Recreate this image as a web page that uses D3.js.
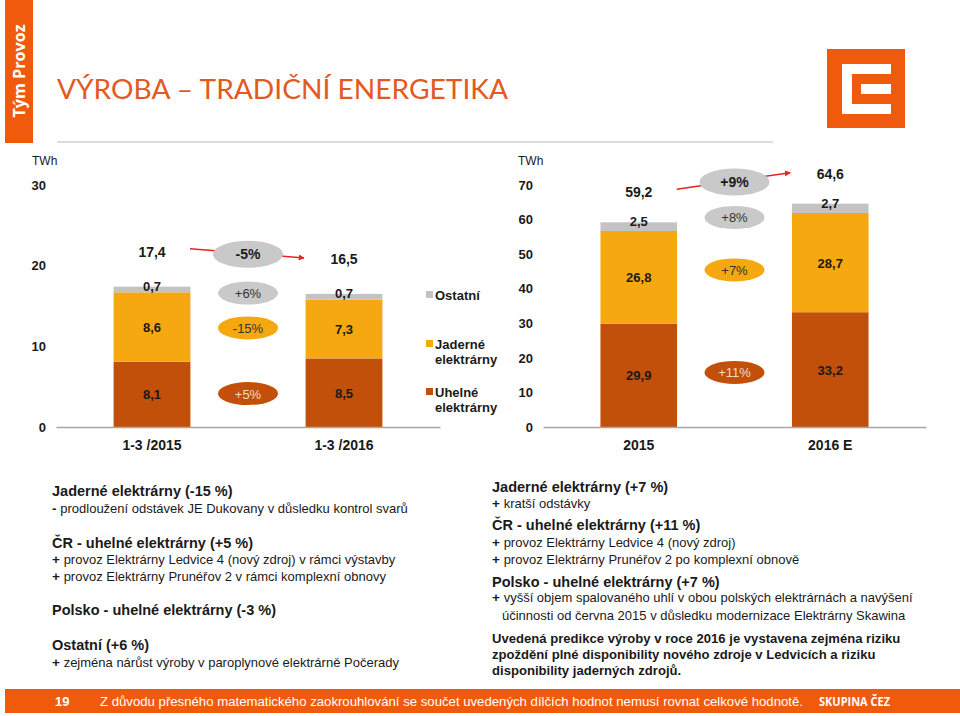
<!DOCTYPE html>
<html><head><meta charset="utf-8">
<script src="https://cdn.jsdelivr.net/npm/d3@7/dist/d3.min.js"></script>
<style>
html,body{margin:0;padding:0;background:#fff;}
svg{display:block;font-family:"Liberation Sans",Arial,sans-serif;}
</style></head>
<body><svg id="c" width="960" height="716"></svg>
<script>
// ---------- data ----------
const seriesNames = ["Uhelné elektrárny","Jaderné elektrárny","Ostatní"];
const legendLines = [["Ostatní"],["Jaderné","elektrárny"],["Uhelné","elektrárny"]];

const categoriesA = ["1-3 /2015","1-3 /2016"];
const coalA = [8.1, 8.5];
const nuclearA = [8.6, 7.3];
const otherA = [0.7, 0.7];
const totalsA = [17.4, 16.5];
const changesA = ["+5%","-15%","+6%","-5%"];   // coal, nuclear, other, total
const ticksA = [0,10,20,30];

const categoriesB = ["2015","2016 E"];
const coalB = [29.9, 33.2];
const nuclearB = [26.8, 28.7];
const otherB = [2.5, 2.7];
const totalsB = [59.2, 64.6];
const changesB = ["+11%","+7%","+8%","+9%"];
const ticksB = [0,10,20,30,40,50,60,70];

const unitLabel = "TWh";
const title = "VÝROBA – TRADIČNÍ ENERGETIKA";
const sideLabel = "Tým Provoz";

const leftNotes = [
  {t:"Jaderné elektrárny (-15 %)", b:true},
  {t:"prodloužení odstávek JE Dukovany v důsledku kontrol svarů", m:"-"},
  {t:"ČR - uhelné elektrárny (+5 %)", b:true},
  {t:"provoz Elektrárny Ledvice 4 (nový zdroj) v rámci výstavby", m:"+"},
  {t:"provoz Elektrárny Prunéřov 2 v rámci komplexní obnovy", m:"+"},
  {t:"Polsko - uhelné elektrárny (-3 %)", b:true},
  {t:"Ostatní (+6 %)", b:true},
  {t:"zejména nárůst výroby v paroplynové elektrárně Počerady", m:"+"}
];
const leftNoteY = [496,513,548,564,581,615,650,667];
const rightNotes = [
  {t:"Jaderné elektrárny (+7 %)", b:true},
  {t:"kratší odstávky", m:"+"},
  {t:"ČR - uhelné elektrárny (+11 %)", b:true},
  {t:"provoz Elektrárny Ledvice 4 (nový zdroj)", m:"+"},
  {t:"provoz Elektrárny Prunéřov 2 po komplexní obnově", m:"+"},
  {t:"Polsko - uhelné elektrárny (+7 %)", b:true},
  {t:"vyšší objem spalovaného uhlí v obou polských elektrárnách a navýšení", m:"+"},
  {t:"účinnosti od června 2015 v důsledku modernizace Elektrárny Skawina", ind:true},
  {t:"Uvedená predikce výroby v roce 2016 je vystavena zejména riziku", b2:true},
  {t:"zpoždění plné disponibility nového zdroje v Ledvicích a riziku", b2:true},
  {t:"disponibility jaderných zdrojů.", b2:true}
];
const rightNoteY = [492,508,530,547,564,587,602,620,643,659,675];

const footerPage = "19";
const footerText = "Z důvodu přesného matematického zaokrouhlování se součet uvedených dílčích hodnot nemusí rovnat celkové hodnotě.";
const footerBrand = "SKUPINA ČEZ";

// ---------- style ----------
const C = {coal:"#c24f0a", nuclear:"#f5a80f", other:"#c3c3c3", ell:"#c9c9c9",
           orange:"#f05a0c", title:"#e25a1f", axis:"#a6a6a6", arrow:"#e5231f"};
const segColors = [C.coal, C.nuclear, C.other];
const fmt = v => d3.format(".1f")(v).replace(".", ",");

const svg = d3.select("#c");

// header
svg.append("rect").attr("x",5).attr("y",0).attr("width",28).attr("height",143).attr("fill",C.orange);
svg.append("text").attr("transform","translate(25,71) rotate(-90)").attr("text-anchor","middle")
  .attr("fill","#fff").attr("font-family","'Open Sans',sans-serif").attr("font-weight",700)
  .attr("font-size",16).attr("textLength",93).attr("lengthAdjust","spacingAndGlyphs").text(sideLabel);
svg.append("text").attr("x",57).attr("y",99).attr("fill",C.title)
  .attr("font-family","Lato,'Open Sans',sans-serif").attr("font-size",27)
  .attr("textLength",451).attr("lengthAdjust","spacingAndGlyphs").text(title);
svg.append("line").attr("x1",57).attr("x2",773).attr("y1",142).attr("y2",142)
  .attr("stroke","#dcdcdc").attr("stroke-width",2);

// logo
svg.append("rect").attr("x",827).attr("y",49).attr("width",78).attr("height",79).attr("fill",C.orange);
svg.append("path").attr("fill","#fff")
  .attr("d","M842,64H891V74H852V104H891V114H842Z M861,84H891V94H861Z");

// arrow marker
svg.append("defs").append("marker").attr("id","ah").attr("viewBox","0 0 10 10")
  .attr("refX",9).attr("refY",5).attr("markerWidth",4).attr("markerHeight",4).attr("orient","auto")
  .append("path").attr("d","M0,0L10,5L0,10Z").attr("fill",C.arrow);

function drawChart(o){
  const y = d3.scaleLinear().domain([0, o.ticks[o.ticks.length-1]]).range([427,185]);
  const x = d3.scaleBand().domain(o.cats).range(o.xr).paddingInner(0.6).paddingOuter(0.3);
  const g = svg.append("g");

  // y ticks
  const ya = g.append("g").attr("transform",`translate(${o.tickX},0)`)
    .call(d3.axisLeft(y).tickValues(o.ticks).tickSize(0).tickPadding(0).tickFormat(d3.format("d")));
  ya.select(".domain").remove();
  ya.selectAll("text").attr("font-size",13).attr("font-weight",700).attr("fill","#1a1a1a")
    .attr("font-family","'Liberation Sans',Arial,sans-serif");
  g.append("text").attr("x",o.unitX).attr("y",165).attr("font-size",12).attr("fill","#1a1a1a").text(unitLabel);

  // stacks
  const rows = o.cats.map((c,i)=>({cat:c, coal:o.coal[i], nuclear:o.nuclear[i], other:o.other[i]}));
  const stack = d3.stack().keys(["coal","nuclear","other"])(rows);
  const bw = x.bandwidth();
  stack.forEach((s,k)=>{
    g.selectAll(null).data(s).join("rect")
      .attr("x",d=>x(d.data.cat)).attr("width",bw)
      .attr("y",d=>y(d[1])).attr("height",d=>y(d[0])-y(d[1])).attr("fill",segColors[k]);
  });

  // x axis
  const xa = g.append("g").attr("transform","translate(0,427)")
    .call(d3.axisBottom(x).tickSize(0).tickPadding(13));
  xa.select(".domain").attr("stroke",C.axis).attr("stroke-width",1.3);
  xa.selectAll("text").attr("font-size",14).attr("font-weight",700).attr("fill","#1a1a1a")
    .attr("font-family","'Liberation Sans',Arial,sans-serif");

  // segment labels
  stack.forEach((s,k)=>{
    g.selectAll(null).data(s).join("text")
      .attr("x",d=>x(d.data.cat)+bw/2)
      .attr("y",d=> k===2 ? y(d[1]) + 4 : (y(d[0])+y(d[1]))/2 + 5)
      .attr("text-anchor","middle").attr("font-size",13).attr("font-weight",700).attr("fill","#1a1a1a")
      .text(d=>fmt(d.data[s.key]));
  });
  // totals
  const totY = o.cats.map((c,i)=> y(o.tot[i]) - o.totOff);
  g.selectAll(null).data(o.tot).join("text")
    .attr("x",(d,i)=>x(o.cats[i])+bw/2).attr("y",(d,i)=>totY[i]+5)
    .attr("text-anchor","middle").attr("font-size",14).attr("font-weight",700).attr("fill","#1a1a1a")
    .text(d=>fmt(d));

  // arrow
  const cx0 = x(o.cats[0])+bw/2, cx1 = x(o.cats[1])+bw/2;
  g.append("line").attr("x1",cx0+38).attr("y1",totY[0]-3).attr("x2",cx1-40).attr("y2",totY[1]-1)
    .attr("stroke",C.arrow).attr("stroke-width",1.5).attr("marker-end","url(#ah)");

  // change ellipses
  const mid = (a,b)=> (a+b)/2;
  const lv = [
    d3.mean(o.coal, v=>v/2),
    d3.mean(o.cats, (c,i)=> o.coal[i] + o.nuclear[i]/2),
    d3.mean(o.cats, (c,i)=> o.coal[i] + o.nuclear[i] + o.other[i]/2)
  ];
  const ey = [y(lv[0]), y(lv[1]), y(lv[2]) , mid(totY[0],totY[1])-1];
  const ex = mid(cx0,cx1);
  const fills = [C.coal, C.nuclear, C.ell, C.ell];
  const tcol = ["#f3dcc6","#333","#333","#1a1a1a"];
  o.chg.forEach((t,k)=>{
    const big = k===3;
    g.append("ellipse").attr("cx",ex).attr("cy",ey[k]).attr("rx",big?35:30).attr("ry",big?13.5:11.5).attr("fill",fills[k]);
    g.append("text").attr("x",ex).attr("y",ey[k]+5).attr("text-anchor","middle")
      .attr("font-size",big?14:13).attr("font-weight",big?700:400).attr("fill",tcol[k]).text(t);
  });
}

drawChart({cats:categoriesA, coal:coalA, nuclear:nuclearA, other:otherA, tot:totalsA, chg:changesA,
  ticks:ticksA, xr:[56,440], tickX:46, unitX:32, totOff:35});
drawChart({cats:categoriesB, coal:coalB, nuclear:nuclearB, other:otherB, tot:totalsB, chg:changesB,
  ticks:ticksB, xr:[543,926], tickX:533, unitX:518, totOff:30});

// legend (left chart)
const lg = svg.append("g");
const legY = [295, 344, 392];
legendLines.forEach((lines,i)=>{
  lg.append("rect").attr("x",426).attr("y",legY[i]-4).attr("width",7).attr("height",7).attr("fill",[C.other,C.nuclear,C.coal][i]);
  lines.forEach((l,j)=>{
    lg.append("text").attr("x",435).attr("y",legY[i]+5+j*15).attr("font-size",13).attr("font-weight",700)
      .attr("fill","#1a1a1a").text(l);
  });
});

// notes
function notes(list, ys, x0){
  list.forEach((n,i)=>{
    const t = svg.append("text").attr("x", n.ind ? x0+10 : x0).attr("y",ys[i]).attr("fill","#1a1a1a");
    if(n.b){ t.attr("font-size",14.5).attr("font-weight",700).text(n.t); }
    else if(n.b2){ t.attr("font-size",13.1).attr("font-weight",700).text(n.t); }
    else {
      t.attr("font-size",13);
      if(n.m){ t.append("tspan").attr("font-weight",700).attr("font-size",13.5).text(n.m+" "); }
      t.append("tspan").text(n.t);
    }
  });
}
notes(leftNotes, leftNoteY, 52);
notes(rightNotes, rightNoteY, 492);

// footer
svg.append("rect").attr("x",5).attr("y",689).attr("width",955).attr("height",24).attr("fill",C.orange);
svg.append("text").attr("x",55).attr("y",706).attr("fill","#fff").attr("font-size",13).attr("font-weight",700).text(footerPage);
svg.append("text").attr("x",100).attr("y",706).attr("fill","#fff").attr("font-size",12.5)
  .attr("textLength",703).attr("lengthAdjust","spacingAndGlyphs").text(footerText);
svg.append("text").attr("x",819).attr("y",706).attr("fill","#fff").attr("font-size",12.5).attr("font-weight",700)
  .attr("font-family","'Open Sans',sans-serif").attr("textLength",71).attr("lengthAdjust","spacingAndGlyphs").text(footerBrand);
</script></body></html>
